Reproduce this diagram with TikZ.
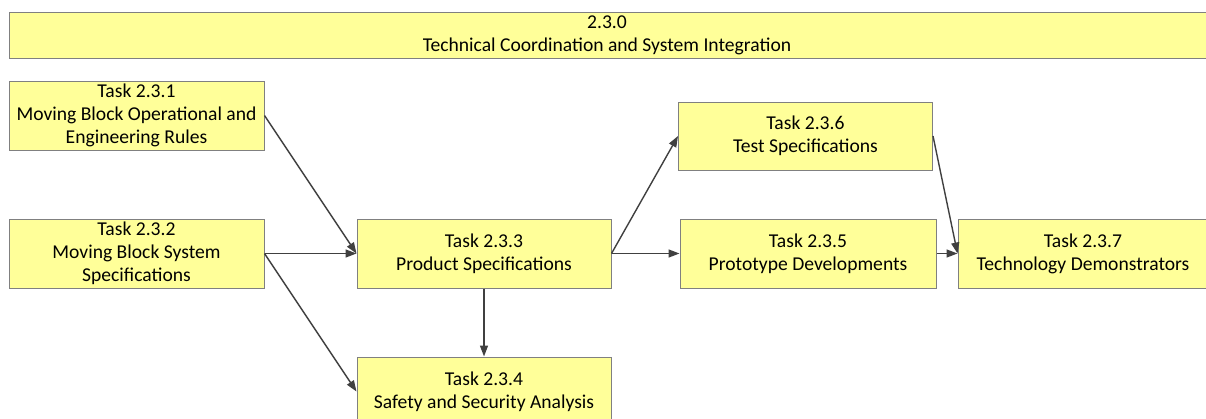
\documentclass[tikz,border=0pt]{standalone}
\usepackage{fontspec}
\setmainfont{Carlito}
\usetikzlibrary{arrows.meta}
\definecolor{boxfill}{HTML}{FFFF99}
\definecolor{boxline}{HTML}{808080}
\definecolor{arrowc}{HTML}{404040}
\tikzset{
  task/.style={draw=boxline, line width=1pt, fill=boxfill, minimum width=254pt, minimum height=69pt,
    inner sep=0pt, align=center, font=\fontsize{19.6}{23}\selectfont},
  conn/.style={draw=arrowc, line width=1.4pt, -{Triangle[length=11pt,width=8pt]}}
}
\begin{document}
\begin{tikzpicture}[x=1pt,y=-1pt]
\useasboundingbox (0,0) rectangle (1206,418);
\clip (0,0) rectangle (1206,418);
\node[task, minimum width=1204pt, minimum height=46pt] (t0) at (611,35) {};
\node[font=\fontsize{19.6}{23}\selectfont, align=center, inner sep=0pt] (t0l) at (607,35) {2.3.0\\Technical Coordination and System Integration};
\node[task, minimum width=255pt] (t1) at (136.5,115.5) {Task 2.3.1\\Moving Block Operational and\\Engineering Rules};
\node[task, minimum width=255pt] (t2) at (136.5,253.5) {Task 2.3.2\\Moving Block System\\Specifications};
\node[task] (t3) at (484,253.5) {Task 2.3.3\\Product Specifications};
\node[task] (t4) at (484,391.5) {Task 2.3.4\\Safety and Security Analysis};
\node[task, minimum height=68pt] (t6) at (805.5,136) {Task 2.3.6\\Test Specifications};
\node[task, minimum width=256pt] (t5) at (808,253.5) {Task 2.3.5\\Prototype Developments};
\node[task, minimum width=250pt] (t7) at (1083,253.5) {Task 2.3.7\\Technology Demonstrators};
\draw[conn] (t1.east) -- (t3.west);
\draw[conn] (t2.east) -- (t3.west);
\draw[conn] (t2.east) -- (t4.west);
\draw[conn] (t3.south) -- (t4.north);
\draw[conn] (t3.east) -- (t6.west);
\draw[conn] (t3.east) -- (t5.west);
\draw[conn] (t6.east) -- (t7.west);
\draw[conn] (t5.east) -- (t7.west);
\end{tikzpicture}
\end{document}
